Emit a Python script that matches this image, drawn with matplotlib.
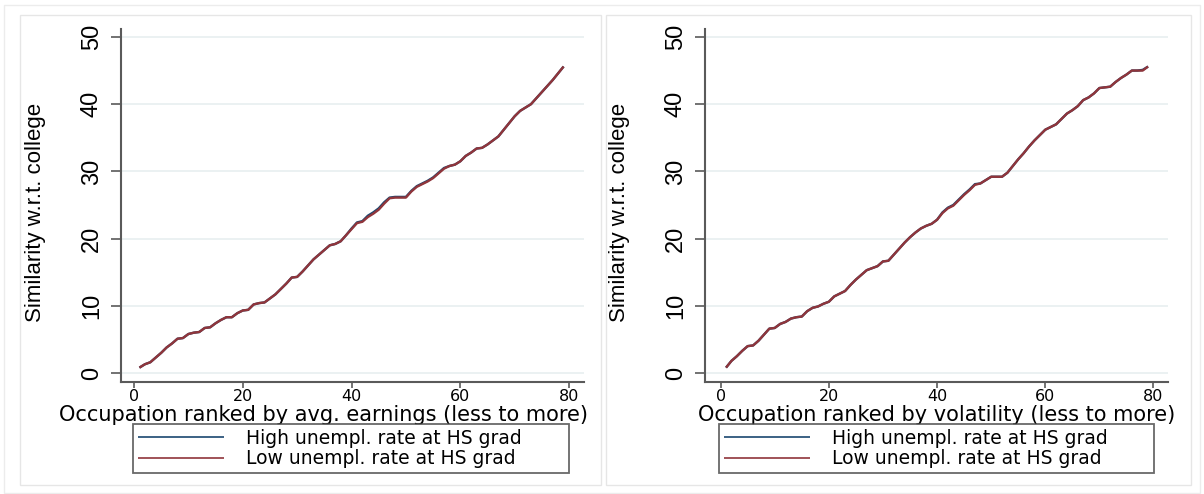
import numpy as np
import matplotlib.pyplot as plt
from matplotlib import font_manager
from matplotlib.patches import Rectangle

# occupations ranked 1..79
rank = list(range(1, 80))

# similarity w.r.t. college, occupations ranked by avg. earnings
earn_high = [0.8, 1.3, 1.6, 2.3, 3.0, 3.8, 4.4, 5.1, 5.2, 5.8,
             6.0, 6.1, 6.7, 6.8, 7.4, 7.9, 8.3, 8.3, 8.9, 9.3,
             9.4, 10.2, 10.4, 10.5, 11.1, 11.7, 12.5, 13.3, 14.2, 14.3,
             15.1, 16.0, 16.9, 17.6, 18.3, 19.0, 19.2, 19.6, 20.5, 21.5,
             22.4, 22.6, 23.4, 23.9, 24.5, 25.4, 26.1, 26.2, 26.2, 26.2,
             27.1, 27.8, 28.2, 28.6, 29.1, 29.8, 30.5, 30.8, 31.0, 31.5,
             32.3, 32.8, 33.4, 33.5, 34.0, 34.6, 35.2, 36.2, 37.2, 38.2,
             39.0, 39.5, 40.0, 40.9, 41.8, 42.7, 43.6, 44.6, 45.6]
earn_low = [0.8, 1.3, 1.6, 2.3, 3.0, 3.8, 4.4, 5.1, 5.2, 5.8,
            6.0, 6.1, 6.7, 6.8, 7.4, 7.9, 8.3, 8.3, 8.9, 9.3,
            9.4, 10.2, 10.4, 10.5, 11.1, 11.7, 12.5, 13.3, 14.2, 14.3,
            15.1, 16.0, 16.9, 17.6, 18.3, 19.0, 19.2, 19.6, 20.5, 21.4,
            22.3, 22.5, 23.2, 23.7, 24.3, 25.2, 26.0, 26.1, 26.1, 26.1,
            27.0, 27.7, 28.1, 28.5, 29.0, 29.7, 30.4, 30.8, 31.0, 31.5,
            32.3, 32.8, 33.4, 33.5, 34.0, 34.6, 35.2, 36.2, 37.2, 38.2,
            39.0, 39.5, 40.0, 40.9, 41.8, 42.7, 43.6, 44.6, 45.6]

# similarity w.r.t. college, occupations ranked by volatility
vol_high = [0.8, 1.8, 2.5, 3.3, 4.0, 4.1, 4.8, 5.7, 6.6, 6.7,
            7.3, 7.6, 8.1, 8.3, 8.4, 9.2, 9.7, 9.9, 10.3, 10.6,
            11.4, 11.8, 12.2, 13.1, 13.9, 14.6, 15.3, 15.6, 15.9, 16.6,
            16.7, 17.6, 18.5, 19.4, 20.2, 20.9, 21.5, 21.9, 22.2, 22.8,
            23.9, 24.6, 25.0, 25.8, 26.6, 27.3, 28.1, 28.2, 28.7, 29.2,
            29.2, 29.2, 29.8, 30.8, 31.8, 32.7, 33.7, 34.6, 35.4, 36.2,
            36.6, 37.0, 37.8, 38.6, 39.1, 39.7, 40.6, 41.0, 41.6, 42.4,
            42.5, 42.6, 43.3, 43.9, 44.4, 45.0, 45.0, 45.1, 45.6]
vol_low = [0.8, 1.8, 2.5, 3.3, 4.0, 4.1, 4.8, 5.7, 6.6, 6.7,
           7.3, 7.6, 8.1, 8.3, 8.4, 9.2, 9.7, 9.9, 10.3, 10.6,
           11.4, 11.8, 12.2, 13.1, 13.9, 14.6, 15.3, 15.6, 15.9, 16.6,
           16.7, 17.6, 18.5, 19.4, 20.2, 20.9, 21.5, 21.9, 22.2, 22.8,
           23.8, 24.5, 24.9, 25.7, 26.5, 27.2, 28.0, 28.2, 28.7, 29.2,
           29.2, 29.2, 29.8, 30.8, 31.8, 32.7, 33.7, 34.6, 35.4, 36.2,
           36.6, 37.0, 37.8, 38.6, 39.1, 39.7, 40.6, 41.0, 41.6, 42.4,
           42.5, 42.6, 43.3, 43.9, 44.4, 45.0, 45.0, 45.0, 45.6]

xticks = [0, 20, 40, 60, 80]
yticks = [0, 10, 20, 30, 40, 50]
xlabels = ["Occupation ranked by avg. earnings (less to more)",
           "Occupation ranked by volatility (less to more)"]
series_names = ["High unempl. rate at HS grad", "Low unempl. rate at HS grad"]

navy = "#1a476f"
maroon = "#90353b"

names = {f.name for f in font_manager.fontManager.ttflist}
narrow = "Liberation Sans Narrow" if "Liberation Sans Narrow" in names else "Liberation Sans"

fig = plt.figure(figsize=(12.04, 4.94), dpi=100)

# light frames around the two graph regions
fig.patches.append(Rectangle((0.003, 0.003), 0.994, 0.986, transform=fig.transFigure,
                             fill=False, edgecolor="#ececec", linewidth=1))
for x0, w in [(0.017, 0.482), (0.503, 0.486)]:
    fig.patches.append(Rectangle((x0, 0.018), w, 0.952, transform=fig.transFigure,
                                 fill=False, edgecolor="#e6e6e6", linewidth=1))

panels = [
    (earn_high, earn_low, [0.1005, 0.2267, 0.3846, 0.714], (-2.39, 82.76), 0.437, (0.1105, 0.053, 0.3625, 0.089)),
    (vol_high, vol_low, [0.5854, 0.2267, 0.3847, 0.714], (-2.92, 82.68), 0.5, (0.5972, 0.053, 0.3613, 0.089)),
]

for i, (hi, lo, rect, xlim, xl_pos, leg_box) in enumerate(panels):
    ax = fig.add_axes(rect)
    ax.plot(rank, hi, color=navy, linewidth=1.7, label=series_names[0], solid_capstyle="butt")
    ax.plot(rank, lo, color=maroon, linewidth=1.7, label=series_names[1], solid_capstyle="butt")

    ax.set_xlim(*xlim)
    ax.set_ylim(-1.34, 51.14)
    ax.set_xticks(xticks)
    ax.set_yticks(yticks)
    ax.grid(axis="y", color="#e8eff0", linewidth=1.2)
    ax.set_axisbelow(True)

    for s in ["top", "right"]:
        ax.spines[s].set_visible(False)
    for s in ["left", "bottom"]:
        ax.spines[s].set_color("#5a5a5a")
        ax.spines[s].set_linewidth(1.5)

    ax.tick_params(axis="x", length=4, width=1.2, color="#5a5a5a", pad=1, labelsize=11.5)
    ax.tick_params(axis="y", length=7, width=1.2, color="#5a5a5a", pad=6)
    for lab in ax.get_yticklabels():
        lab.set_rotation(90)
        lab.set_va("center")
        lab.set_fontfamily(narrow)
        lab.set_fontsize(17)

    ax.set_ylabel("Similarity w.r.t. college", fontfamily=narrow, fontsize=16)
    ax.yaxis.set_label_coords(-0.162, 0.48)
    ax.set_xlabel(xlabels[i], fontsize=15)
    ax.xaxis.set_label_coords(xl_pos, -0.094)
    ax.xaxis.label.set_va("center")

    leg = ax.legend(loc="upper left", bbox_to_anchor=leg_box, bbox_transform=fig.transFigure,
                    mode="expand", fontsize=13.5, frameon=True, fancybox=False,
                    edgecolor="#444444", handlelength=4.6, handletextpad=1.2,
                    borderpad=0.25, labelspacing=0.1, borderaxespad=0)
    leg.get_frame().set_linewidth(1.3)
    for line in leg.get_lines():
        line.set_linewidth(1.2)

fig.savefig("out.png", dpi=100)
